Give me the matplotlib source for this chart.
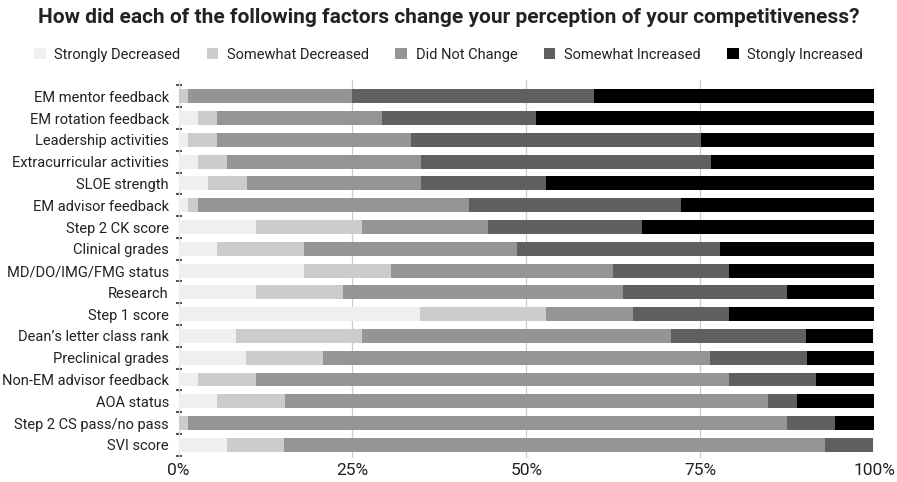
import matplotlib.pyplot as plt
import numpy as np

plt.rcParams['font.family'] = ['Roboto', 'DejaVu Sans']

# ============================================================
# Data (percent of respondents)
# ============================================================
factors = [
    "EM mentor feedback", "EM rotation feedback", "Leadership activities",
    "Extracurricular activities", "SLOE strength", "EM advisor feedback",
    "Step 2 CK score", "Clinical grades", "MD/DO/IMG/FMG status", "Research",
    "Step 1 score", "Dean\u2019s letter class rank", "Preclinical grades",
    "Non-EM advisor feedback", "AOA status", "Step 2 CS pass/no pass", "SVI score",
]
strongly_decreased = [0.0, 2.8, 1.4, 2.8, 4.2, 1.4, 11.1, 5.6, 18.1, 11.1, 34.7, 8.3, 9.7, 2.8, 5.6, 0.0, 6.9]
somewhat_decreased = [1.4, 2.8, 4.2, 4.2, 5.6, 1.4, 15.3, 12.5, 12.5, 12.5, 18.1, 18.1, 11.1, 8.3, 9.7, 1.4, 8.3]
did_not_change = [23.6, 23.6, 27.8, 27.8, 25.0, 38.9, 18.1, 30.6, 31.9, 40.3, 12.5, 44.4, 55.6, 68.1, 69.4, 86.1, 77.8]
somewhat_increased = [34.7, 22.2, 41.7, 41.7, 18.1, 30.6, 22.2, 29.2, 16.7, 23.6, 13.9, 19.4, 13.9, 12.5, 4.2, 6.9, 6.9]
strongly_increased = [40.3, 48.6, 25.0, 23.6, 47.2, 27.8, 33.3, 22.2, 20.8, 12.5, 20.8, 9.7, 9.7, 8.3, 11.1, 5.6, 0.0]

series = [
    ("Strongly Decreased", strongly_decreased, "#efefef"),
    ("Somewhat Decreased", somewhat_decreased, "#cccccc"),
    ("Did Not Change", did_not_change, "#959595"),
    ("Somewhat Increased", somewhat_increased, "#606060"),
    ("Stongly Increased", strongly_increased, "#000000"),
]

fig = plt.figure(figsize=(8.97, 4.82), dpi=100)
ax = fig.add_axes([0.199, 0.050, 0.7755, 0.784])

y = np.arange(len(factors))
left = np.zeros(len(factors))
for label, vals, color in series:
    vals = np.array(vals)
    ax.barh(y, vals, left=left, height=0.64, color=color, label=label, zorder=3)
    left += vals

ax.set_xlim(0, 100)
ax.set_ylim(len(factors) - 0.4, -0.75)
ax.set_yticks(y)
ax.set_yticklabels(factors, fontsize=10.5, color="#222222")
ax.set_xticks([0, 25, 50, 75, 100])
ax.set_xticklabels(["0%", "25%", "50%", "75%", "100%"], fontsize=12.5, color="#222222")
ax.tick_params(axis="y", length=0, pad=7)
ax.tick_params(axis="x", length=0, pad=4)
ax.set_yticks(np.arange(len(factors) + 1) - 0.5, minor=True)
ax.tick_params(axis="y", which="minor", length=4, width=1.2, color="#333333", direction="inout")
ax.grid(axis="x", color="#cccccc", linewidth=0.9, zorder=0)
for s in ["top", "right", "bottom"]:
    ax.spines[s].set_visible(False)
ax.spines["left"].set_color("#dddddd")

fig.suptitle("How did each of the following factors change your perception of your competitiveness?",
             fontsize=15, fontweight="bold", x=0.5, y=0.984, color="#222222")
fig.legend(loc="center", bbox_to_anchor=(0.5, 0.886), ncol=5, frameon=False, fontsize=10.5,
           handlelength=0.8, handleheight=0.8, handletextpad=0.6, columnspacing=1.8,
           labelcolor="#222222")

fig.savefig("out.png", dpi=100)
